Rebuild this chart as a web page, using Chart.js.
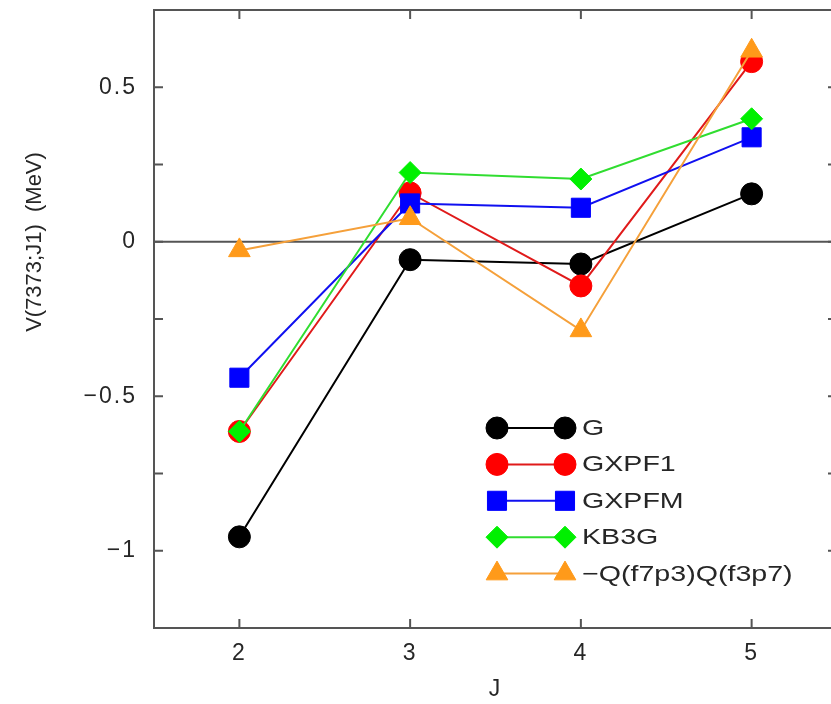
<!DOCTYPE html>
<html>
<head>
<meta charset="utf-8">
<script src="https://cdn.jsdelivr.net/npm/chart.js"></script>
<style>
  html, body { margin: 0; padding: 0; background: #fff; overflow: hidden; }
  #wrap { width: 840px; height: 704px; }
  canvas { display: block; }
</style>
</head>
<body>
<div id="wrap"><canvas id="c" width="840" height="704"></canvas></div>
<script>
// Angular momentum J of the coupled pair
const jValues = [2, 3, 4, 5];

// Matrix elements V(7373;J1) in MeV for each interaction
const seriesNames = ['G', 'GXPF1', 'GXPFM', 'KB3G', '\u2212Q(f7p3)Q(f3p7)'];
const vG     = [-0.955, -0.058, -0.072, 0.155];
const vGXPF1 = [-0.614,  0.158, -0.143, 0.583];
const vGXPFM = [-0.440,  0.124,  0.110, 0.338];
const vKB3G  = [-0.614,  0.224,  0.203, 0.398];
const vQQ    = [-0.028,  0.076, -0.287, 0.618];

// Axis ticks
const xTicks = [2, 3, 4, 5];
const yTicks = [-1.25, -1, -0.75, -0.5, -0.25, 0, 0.25, 0.5, 0.75];
const yLabelled = [-1, -0.5, 0, 0.5];

const FONT = '"Liberation Sans", Arial, Helvetica, sans-serif';
const TEXT = '#262626';
const FRAME = '#555555';
const WIDE = 1.3;   // horizontal stretch of legend lettering

const styles = [
  { line: '#000000', fill: '#000000', shape: 'circle',   r: 11 },
  { line: '#e01a1a', fill: '#ff0000', shape: 'circle',   r: 11 },
  { line: '#1010f0', fill: '#0000ff', shape: 'rect',     r: 13.5 },
  { line: '#30dd30', fill: '#00f000', shape: 'rectRot',  r: 11 },
  { line: '#f5a03a', fill: '#ff9a1a', shape: 'triangle', r: 12.5 }
];
const allValues = [vG, vGXPF1, vGXPFM, vKB3G, vQQ];

const datasets = allValues.map((vals, i) => ({
  label: seriesNames[i],
  data: jValues.map((j, k) => ({ x: j, y: vals[k] })),
  borderColor: styles[i].line,
  backgroundColor: styles[i].fill,
  borderWidth: 2,
  pointStyle: styles[i].shape,
  pointRadius: styles[i].r,
  pointHoverRadius: styles[i].r,
  pointBackgroundColor: styles[i].fill,
  pointBorderColor: styles[i].fill,
  pointBorderWidth: 1,
  tension: 0,
  fill: false,
  order: allValues.length - 1 - i
}));

function fmt(v) {
  const a = Math.abs(v);
  const s = String(Math.round(a * 100) / 100);
  return v < 0 ? '\u2212' + s : s;
}

function noPadding(scale) {
  scale.paddingTop = 0;
  scale.paddingBottom = 0;
  scale.paddingLeft = 0;
  scale.paddingRight = 0;
}

// Slightly wider glyph spacing for the tick numbers
const spacingPlugin = {
  id: 'spacing',
  beforeUpdate(chart) { chart.ctx.letterSpacing = '2px'; },
  beforeDraw(chart) { chart.ctx.letterSpacing = '2px'; }
};

// Zero reference line behind the data
const zeroLine = {
  id: 'zeroLine',
  beforeDatasetsDraw(chart) {
    const { ctx, chartArea: a, scales } = chart;
    const y = scales.y.getPixelForValue(0);
    ctx.save();
    ctx.strokeStyle = FRAME;
    ctx.lineWidth = 2;
    ctx.beginPath();
    ctx.moveTo(a.left, y);
    ctx.lineTo(a.right, y);
    ctx.stroke();
    ctx.restore();
  }
};

// Boxed frame with inward ticks on all four sides
const framePlugin = {
  id: 'frame',
  afterDatasetsDraw(chart) {
    const { ctx, chartArea: a, scales } = chart;
    const len = 9;
    ctx.save();
    ctx.strokeStyle = FRAME;
    ctx.lineWidth = 2;
    ctx.strokeRect(a.left, a.top, a.right - a.left, a.bottom - a.top);
    ctx.beginPath();
    yTicks.forEach(v => {
      const y = scales.y.getPixelForValue(v);
      ctx.moveTo(a.left, y); ctx.lineTo(a.left + len, y);
      ctx.moveTo(a.right, y); ctx.lineTo(a.right - len, y);
    });
    xTicks.forEach(v => {
      const x = scales.x.getPixelForValue(v);
      ctx.moveTo(x, a.bottom); ctx.lineTo(x, a.bottom - len);
      ctx.moveTo(x, a.top); ctx.lineTo(x, a.top + len);
    });
    ctx.stroke();
    ctx.restore();
  }
};

function drawMarker(ctx, st, x, y) {
  ctx.fillStyle = st.fill;
  ctx.strokeStyle = st.fill;
  ctx.lineWidth = 1;
  if (Chart.helpers && Chart.helpers.drawPoint) {
    Chart.helpers.drawPoint(ctx, { pointStyle: st.shape, radius: st.r, rotation: 0, borderWidth: 1 }, x, y);
    return;
  }
  ctx.beginPath();
  ctx.arc(x, y, st.r, 0, Math.PI * 2);
  ctx.fill();
}

// Legend: line sample with a marker at each end, name on the right
const legendPlugin = {
  id: 'sampleLegend',
  afterDraw(chart) {
    const ctx = chart.ctx;
    const x0 = 497, x1 = 565, tx = 582, y0 = 428, dy = 36.4;
    ctx.save();
    ctx.letterSpacing = '0px';
    seriesNames.forEach((name, i) => {
      const st = styles[i];
      const y = y0 + i * dy;
      ctx.strokeStyle = st.line;
      ctx.lineWidth = 2;
      ctx.beginPath();
      ctx.moveTo(x0, y); ctx.lineTo(x1, y);
      ctx.stroke();
      drawMarker(ctx, st, x0, y);
      drawMarker(ctx, st, x1, y);
      ctx.save();
      ctx.translate(tx, y + 1);
      ctx.scale(WIDE, 1);
      ctx.font = '22px ' + FONT;
      ctx.textAlign = 'left';
      ctx.textBaseline = 'middle';
      ctx.fillStyle = TEXT;
      ctx.fillText(name, 0, 0);
      ctx.restore();
    });
    ctx.restore();
  }
};

// Vertical axis title
const yTitlePlugin = {
  id: 'yTitle',
  afterDraw(chart) {
    const ctx = chart.ctx;
    ctx.save();
    ctx.letterSpacing = '0px';
    ctx.translate(35, 242);
    ctx.rotate(-Math.PI / 2);
    ctx.font = '22px ' + FONT;
    ctx.fillStyle = TEXT;
    ctx.textAlign = 'center';
    ctx.textBaseline = 'middle';
    ctx.fillText('V(7373;J1)  (MeV)', 0, 0);
    ctx.restore();
  }
};

new Chart(document.getElementById('c'), {
  type: 'line',
  data: { datasets },
  plugins: [spacingPlugin, zeroLine, framePlugin, legendPlugin, yTitlePlugin],
  options: {
    responsive: false,
    animation: false,
    layout: { autoPadding: false, padding: { top: 10, right: 3, bottom: 0, left: 0 } },
    plugins: { legend: { display: false }, tooltip: { enabled: false } },
    scales: {
      x: {
        type: 'linear',
        min: 1.5,
        max: 5.5,
        afterBuildTicks(scale) { scale.ticks = xTicks.map(v => ({ value: v })); },
        afterFit(scale) { scale.height = 76; noPadding(scale); },
        grid: { display: false, drawTicks: false },
        border: { display: false },
        ticks: {
          color: TEXT,
          font: { family: FONT, size: 23 },
          padding: 12,
          maxRotation: 0,
          callback: v => String(v)
        },
        title: {
          display: true,
          text: 'J',
          color: TEXT,
          font: { family: FONT, size: 23 },
          padding: { top: 0, bottom: 1 }
        }
      },
      y: {
        type: 'linear',
        min: -1.25,
        max: 0.75,
        afterBuildTicks(scale) { scale.ticks = yTicks.map(v => ({ value: v })); },
        afterFit(scale) { scale.width = 154; noPadding(scale); },
        grid: { display: false, drawTicks: false },
        border: { display: false },
        ticks: {
          color: TEXT,
          font: { family: FONT, size: 23 },
          padding: 17,
          callback: v => yLabelled.some(t => Math.abs(t - v) < 1e-9) ? fmt(v) : ''
        }
      }
    }
  }
});
</script>
</body>
</html>
